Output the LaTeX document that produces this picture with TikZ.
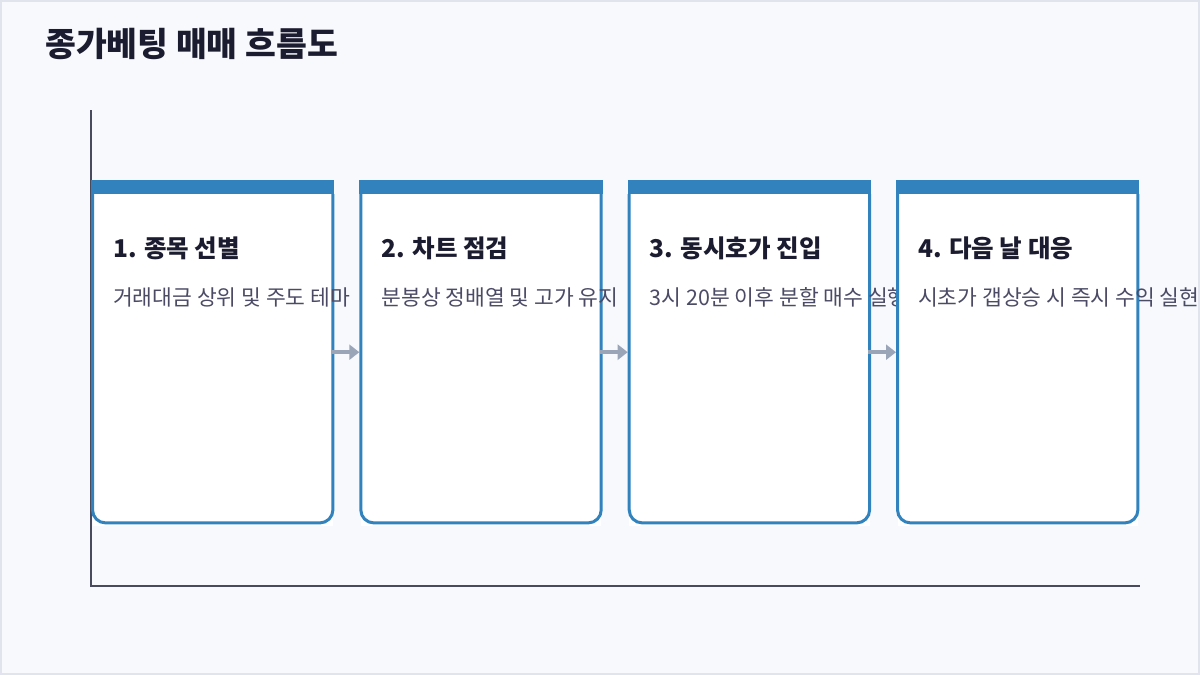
\documentclass[tikz,border=0pt]{standalone}
\usepackage{fontspec}
\newfontfamily\kr{Noto Sans CJK KR}
\usetikzlibrary{arrows.meta,calc}
\definecolor{bgc}{HTML}{F7F9FD}
\definecolor{framec}{HTML}{E1E4EC}
\definecolor{bluec}{HTML}{3182BD}
\definecolor{axisc}{HTML}{4A4A5E}
\definecolor{titlec}{HTML}{1C1C30}
\definecolor{bodyc}{HTML}{4B4B66}
\definecolor{arrowc}{HTML}{9AA5B8}
\tikzset{
  boxarea/.style={rectangle,inner sep=0pt,minimum width=243pt,minimum height=344pt,anchor=north west},
  headtxt/.style={anchor=base west,inner sep=0pt,font=\kr\bfseries\fontsize{24.5}{29}\selectfont,text=titlec},
  bodytxt/.style={anchor=base west,inner sep=0pt,font=\kr\fontsize{21.5}{26}\selectfont,text=bodyc},
  flowarrow/.style={draw=arrowc,line width=4pt,-{Triangle[length=10pt,width=15pt]},shorten <=-3pt},
  axisline/.style={draw=axisc,line width=2pt},
}
\newcommand{\flowbox}[1]{%
  \fill[white] ([xshift=1.5pt]#1.north west) -- ([xshift=1.5pt,yshift=-1.5pt]#1.south west) -- ([xshift=-1.5pt,yshift=-1.5pt]#1.south east) -- ([xshift=-1.5pt]#1.north east) -- cycle;
  \draw[bluec,line width=3pt,rounded corners=13pt] ([xshift=1.5pt,yshift=-14pt]#1.north west) -- ([xshift=1.5pt,yshift=1.5pt]#1.south west) -- ([xshift=-1.5pt,yshift=1.5pt]#1.south east) -- ([xshift=-1.5pt,yshift=-14pt]#1.north east);
  \fill[bluec] (#1.north west) rectangle ([yshift=-14pt]#1.north east);
}
\begin{document}
\begin{tikzpicture}[x=1pt,y=-1pt]
\useasboundingbox (0,0) rectangle (1200,675);
\begin{scope}
\clip (0,0) rectangle (1200,675);
\draw[draw=framec,fill=bgc,line width=2pt] (1,1) rectangle (1199,674);
\node[anchor=base west,inner sep=0pt,font=\kr\bfseries\fontsize{33.5}{38}\selectfont,text=titlec] (title) at (45,56) {종가베팅 매매 흐름도};
\coordinate (axtop) at (91,110);
\coordinate (axorig) at (91,586);
\coordinate (axright) at (1140,586);
\draw[axisline] (axtop) -- (axorig) -- (axright);
\node[boxarea] (b1) at (91,180) {};
\node[boxarea] (b2) at (359.3,180) {};
\node[boxarea] (b3) at (627.7,180) {};
\node[boxarea] (b4) at (896,180) {};
\flowbox{b1}
\node[headtxt] (h1) at ($(b1.north west)+(22,77)$) {1. 종목 선별};
\node[bodytxt] (d1) at ($(b1.north west)+(22,125)$) {거래대금 상위 및 주도 테마};
\draw[flowarrow] (b1.east) -- (b2.west);
\flowbox{b2}
\node[headtxt] (h2) at ($(b2.north west)+(22,77)$) {2. 차트 점검};
\node[bodytxt] (d2) at ($(b2.north west)+(22,125)$) {분봉상 정배열 및 고가 유지};
\draw[flowarrow] (b2.east) -- (b3.west);
\flowbox{b3}
\node[headtxt] (h3) at ($(b3.north west)+(22,77)$) {3. 동시호가 진입};
\node[bodytxt] (d3) at ($(b3.north west)+(22,125)$) {3시 20분 이후 분할 매수 실행};
\draw[flowarrow] (b3.east) -- (b4.west);
\flowbox{b4}
\node[headtxt] (h4) at ($(b4.north west)+(22,77)$) {4. 다음 날 대응};
\node[bodytxt] (d4) at ($(b4.north west)+(22,125)$) {시초가 갭상승 시 즉시 수익 실현};
\end{scope}
\end{tikzpicture}
\end{document}
